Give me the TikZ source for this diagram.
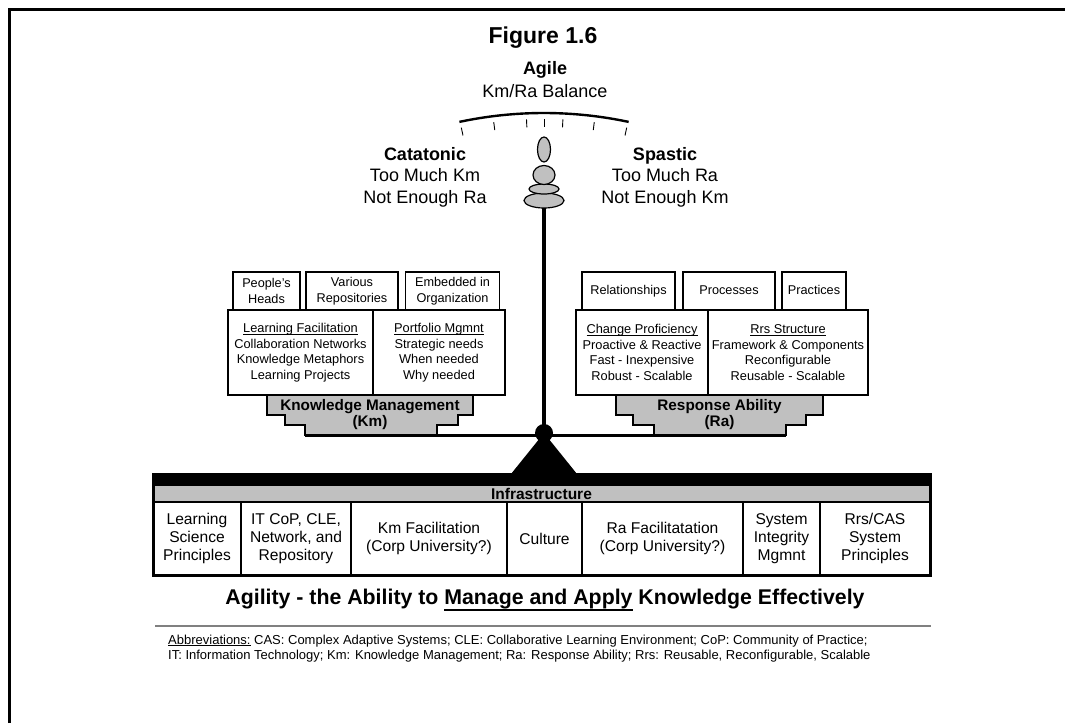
\documentclass[tikz,border=0pt]{standalone}
\usepackage{fontspec}
\setmainfont{Liberation Sans}
\newcommand\fsz[2]{\fontsize{#1}{#2}\selectfont}
% underline: #1 thickness, #2 lower edge of the rule below the baseline, #3 text
\newcommand\uln[3]{\setbox0\hbox{#3}\leavevmode\rlap{\rule[-#2]{\wd0}{#1}}\box0\relax}
\newcommand\ulsmall[1]{\uln{0.8pt}{2pt}{#1}}
\definecolor{silver}{RGB}{192,192,192}
\definecolor{rulegray}{RGB}{128,128,128}
\begin{document}
\begin{tikzpicture}[x=1pt,y=-1pt,
  label/.style={inner sep=0pt, align=center},
  smallbox/.style={draw, line width=1.2pt, fill=white, inner sep=0pt, align=center,
                   font=\fsz{12.7}{15.5}},
  oneline/.style={text height=9.5pt, text depth=2.5pt},
  bigbox/.style={draw, line width=1.2pt, fill=white, inner sep=0pt, align=center,
                 font=\fsz{12.8}{15.5}},
  cell/.style={draw, line width=1.2pt, fill=white, inner sep=0pt, align=center,
               minimum height=73pt, font=\fsz{15.6}{18}},
  base/.style={draw, line width=1.5pt, fill=silver},
  dial/.style={draw, line width=1.2pt, fill=silver}
]
\useasboundingbox (0,0) rectangle (1065,723);

% frame
\draw[line width=3pt] (9,723) -- (9,9) -- (1065,9);

% headings
\node[label, font=\bfseries\fsz{23}{26}] (fig) at (543,38) {Figure 1.6};
\node[label, font=\bfseries\fsz{18}{21}] (agile) at (545,70) {Agile};
\node[label, font=\fsz{18}{21}] (bal) at (545,91) {Km/Ra Balance};
\node[label, font=\fsz{18}{21.5}] (cat) at (425,177)
  {\textbf{Catatonic}\\Too Much Km\\Not Enough Ra};
\node[label, font=\fsz{18}{21.5}] (spa) at (665,177)
  {\textbf{Spastic}\\Too Much Ra\\Not Enough Km};

% scale arc with ticks
\coordinate (c) at (544,520);
\draw[line width=2.4pt] (c) ++(102:407pt) arc[start angle=102, end angle=78, radius=407pt];
\foreach \a in {-11.9,-7.2,-2.5,0,2.7,7.2,11.9}
  \draw[line width=0.9pt] (c) ++(90-\a:401pt) -- ++(270-\a:8pt);

% pole
\draw[line width=4pt] (544,205) -- (544,433);

% pointer
\path[dial] (544,200.5) ellipse[x radius=20pt, y radius=7.5pt];
\path[dial] (544,189) ellipse[x radius=15pt, y radius=5pt];
\path[dial] (544,175) ellipse[x radius=11pt, y radius=9.5pt];
\path[dial] (544,149.5) ellipse[x radius=6.5pt, y radius=12.5pt];

% Km side
\node[smallbox, minimum width=67pt, minimum height=38pt] (ph) at (266.5,291) {People's\\Heads};
\node[smallbox, minimum width=92pt, minimum height=38pt] (vr) at (352,291) {Various\\Repositories};
\node[smallbox, minimum width=94pt, minimum height=38pt] (eo) at (452.5,291) {Embedded in\\Organization};
\node[bigbox, minimum width=145pt, minimum height=85pt] (lf) at (300.5,352.5)
  {\ulsmall{Learning Facilitation}\\Collaboration Networks\\Knowledge Metaphors\\Learning Projects};
\node[bigbox, minimum width=132pt, minimum height=85pt] (pm) at (439,352.5)
  {\ulsmall{Portfolio Mgmnt}\\Strategic needs\\When needed\\Why needed};
\path[base] (267,395) -- (473,395) -- (473,415) -- (458,415) -- (458,425) -- (437,425)
  -- (437,435) -- (305,435) -- (305,425) -- (285,425) -- (285,415) -- (267,415) -- cycle;
\node[label, font=\bfseries\fsz{15.3}{16}] (km) at (370,414.5) {Knowledge Management\\(Km)};

% Ra side
\node[smallbox, oneline, minimum width=93pt, minimum height=38pt] (rel) at (628.5,291) {Relationships};
\node[smallbox, oneline, minimum width=92pt, minimum height=38pt] (pro) at (729,291) {Processes};
\node[smallbox, oneline, minimum width=64pt, minimum height=38pt] (pra) at (814,291) {Practices};
\node[bigbox, minimum width=132pt, minimum height=85pt] (cp) at (642,352.5)
  {\ulsmall{Change Proficiency}\\Proactive \& Reactive\\Fast - Inexpensive\\Robust - Scalable};
\node[bigbox, minimum width=160pt, minimum height=85pt] (rs) at (788,352.5)
  {\ulsmall{Rrs Structure}\\Framework \& Components\\Reconfigurable\\Reusable - Scalable};
\path[base] (616,395) -- (823,395) -- (823,415) -- (806,415) -- (806,425) -- (786,425)
  -- (786,435) -- (654,435) -- (654,425) -- (633,425) -- (633,415) -- (616,415) -- cycle;
\node[label, font=\bfseries\fsz{15.3}{16}] (ra) at (719.5,414.5) {Response Ability\\(Ra)};

% beam, pivot and stand
\draw[line width=3pt] (305,435) -- (786,435);
\fill (544,433) circle[radius=9pt];
\fill (544,433) -- (577,474) -- (511,474) -- cycle;

% infrastructure
\fill (153,473) rectangle (930,486);
\node[draw, line width=1.2pt, fill=silver, minimum width=777pt, minimum height=17pt,
      inner sep=0pt, font=\bfseries\fsz{15.5}{17}] (inf) at (541.5,493.5) {Infrastructure};
\node[cell, minimum width=88pt] (c1) at (197,538.5) {Learning\\Science\\Principles};
\node[cell, minimum width=110pt] (c2) at (296,538.5) {IT CoP, CLE,\\Network, and\\Repository};
\node[cell, minimum width=156pt] (c3) at (429,538.5) {Km Facilitation\\(Corp University?)};
\node[cell, minimum width=75pt] (c4) at (544.5,538.5) {Culture};
\node[cell, minimum width=161pt] (c5) at (662.5,538.5) {Ra Facilitatation\\(Corp University?)};
\node[cell, minimum width=77pt] (c6) at (781.5,538.5) {System\\Integrity\\Mgmnt};
\node[cell, minimum width=110pt] (c7) at (875,538.5) {Rrs/CAS\\System\\Principles};
\draw[line width=3pt] (153,473) -- (153,575.5) -- (930,575.5) -- (930,473);

% tagline
\node[label, anchor=base, font=\bfseries\fsz{21.3}{24}] (tag) at (545,604)
  {Agility - the Ability to \uln{1.8pt}{6.5pt}{Manage and Apply} Knowledge Effectively};

% abbreviations
\draw[rulegray, line width=1.5pt] (155,626) -- (931,626);
\node[label, anchor=base west, font=\fsz{13}{15}] (abbr1) at (168,644)
  {\ulsmall{Abbreviations:} CAS: Complex Adaptive Systems; CLE: Collaborative Learning Environment; CoP: Community of Practice;};
\node[label, anchor=base west, font=\fsz{13}{15}] (abbr2) at (168,659)
  {IT: Information Technology; Km: Knowledge Management; Ra: Response Ability; Rrs: Reusable, Reconfigurable, Scalable};
\end{tikzpicture}
\end{document}
